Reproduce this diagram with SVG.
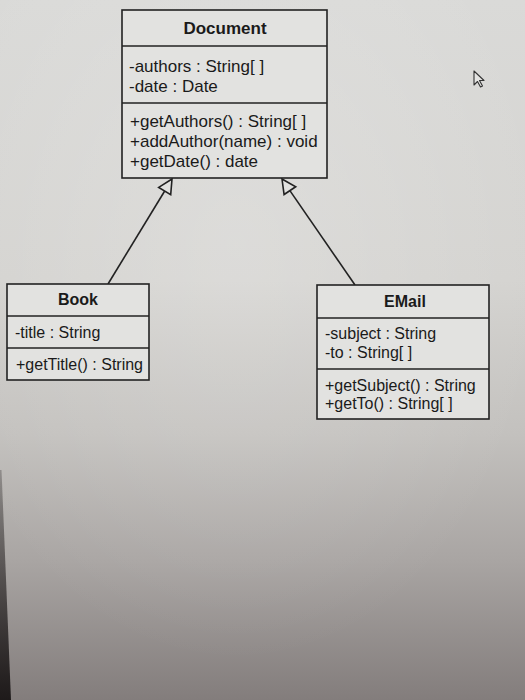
<svg xmlns="http://www.w3.org/2000/svg" width="525" height="700" viewBox="0 0 525 700">
  <defs>
    <linearGradient id="bg" x1="0" y1="0" x2="0" y2="1">
      <stop offset="0" stop-color="#dadad8"/>
      <stop offset="0.4" stop-color="#d4d3d0"/>
      <stop offset="0.62" stop-color="#c3c1be"/>
      <stop offset="0.8" stop-color="#a9a5a3"/>
      <stop offset="1" stop-color="#837d7c"/>
    </linearGradient>
    <radialGradient id="hl" cx="0.45" cy="0.35" r="0.6">
      <stop offset="0" stop-color="#ffffff" stop-opacity="0.18"/>
      <stop offset="1" stop-color="#ffffff" stop-opacity="0"/>
    </radialGradient>
    <linearGradient id="edge" x1="0" y1="0" x2="0" y2="1">
      <stop offset="0" stop-color="#2a2626" stop-opacity="0.3"/>
      <stop offset="1" stop-color="#1e1a1a" stop-opacity="1"/>
    </linearGradient>
    <style>
      .box { fill: #e2e2e0; stroke: #222; stroke-width: 1.6; }
      .div { stroke: #222; stroke-width: 1.6; }
      .title { font-family: "Liberation Sans", Arial, sans-serif; font-weight: bold; fill: #1a1a1a; text-anchor: middle; }
      .txt { font-family: "Liberation Sans", Arial, sans-serif; fill: #1a1a1a; }
      .conn { stroke: #222; stroke-width: 1.6; fill: none; }
      .head { fill: #e2e2e0; stroke: #222; stroke-width: 1.6; stroke-linejoin: miter; }
    </style>
  </defs>

  <rect x="0" y="0" width="525" height="700" fill="url(#bg)"/>
  <rect x="0" y="0" width="525" height="700" fill="url(#hl)"/>
  <polygon points="0,470 1.5,470 11,700 0,700" fill="url(#edge)"/>

  <g id="connectors">
    <line class="conn" x1="108" y1="284" x2="164.7" y2="191"/>
    <polygon class="head" points="172,179 158.7,187.4 170.7,194.6"/>
    <line class="conn" x1="355" y1="285" x2="289.9" y2="190.6"/>
    <polygon class="head" points="282,179 295.7,186.7 284.1,194.5"/>
  </g>

  <g id="Document">
    <rect class="box" x="122" y="10" width="205" height="168"/>
    <line class="div" x1="122" y1="46" x2="327" y2="46"/>
    <line class="div" x1="122" y1="103" x2="327" y2="103"/>
    <text class="title" x="225" y="34" font-size="17">Document</text>
    <text class="txt" x="129" y="72" font-size="17">-authors : String[ ]</text>
    <text class="txt" x="129" y="92" font-size="17">-date : Date</text>
    <text class="txt" x="130" y="127" font-size="17">+getAuthors() : String[ ]</text>
    <text class="txt" x="130" y="147" font-size="17">+addAuthor(name) : void</text>
    <text class="txt" x="130" y="167" font-size="17">+getDate() : date</text>
  </g>

  <g id="Book">
    <rect class="box" x="7" y="284" width="142" height="96"/>
    <line class="div" x1="7" y1="316" x2="149" y2="316"/>
    <line class="div" x1="7" y1="348" x2="149" y2="348"/>
    <text class="title" x="78" y="305" font-size="16">Book</text>
    <text class="txt" x="15" y="338" font-size="16">-title : String</text>
    <text class="txt" x="16" y="370" font-size="16">+getTitle() : String</text>
  </g>

  <g id="EMail">
    <rect class="box" x="317" y="285" width="172" height="134"/>
    <line class="div" x1="317" y1="318" x2="489" y2="318"/>
    <line class="div" x1="317" y1="369" x2="489" y2="369"/>
    <text class="title" x="405" y="307" font-size="16">EMail</text>
    <text class="txt" x="325" y="339" font-size="16">-subject : String</text>
    <text class="txt" x="325" y="358" font-size="16">-to : String[ ]</text>
    <text class="txt" x="325" y="391" font-size="16">+getSubject() : String</text>
    <text class="txt" x="325" y="409" font-size="16">+getTo() : String[ ]</text>
  </g>

  <polygon points="474,71 474,85 477.5,81.5 480.5,87 482.5,86 479.5,80.5 484,80.5" fill="#e4e4e2" stroke="#333" stroke-width="1.1" stroke-linejoin="round"/>
</svg>
